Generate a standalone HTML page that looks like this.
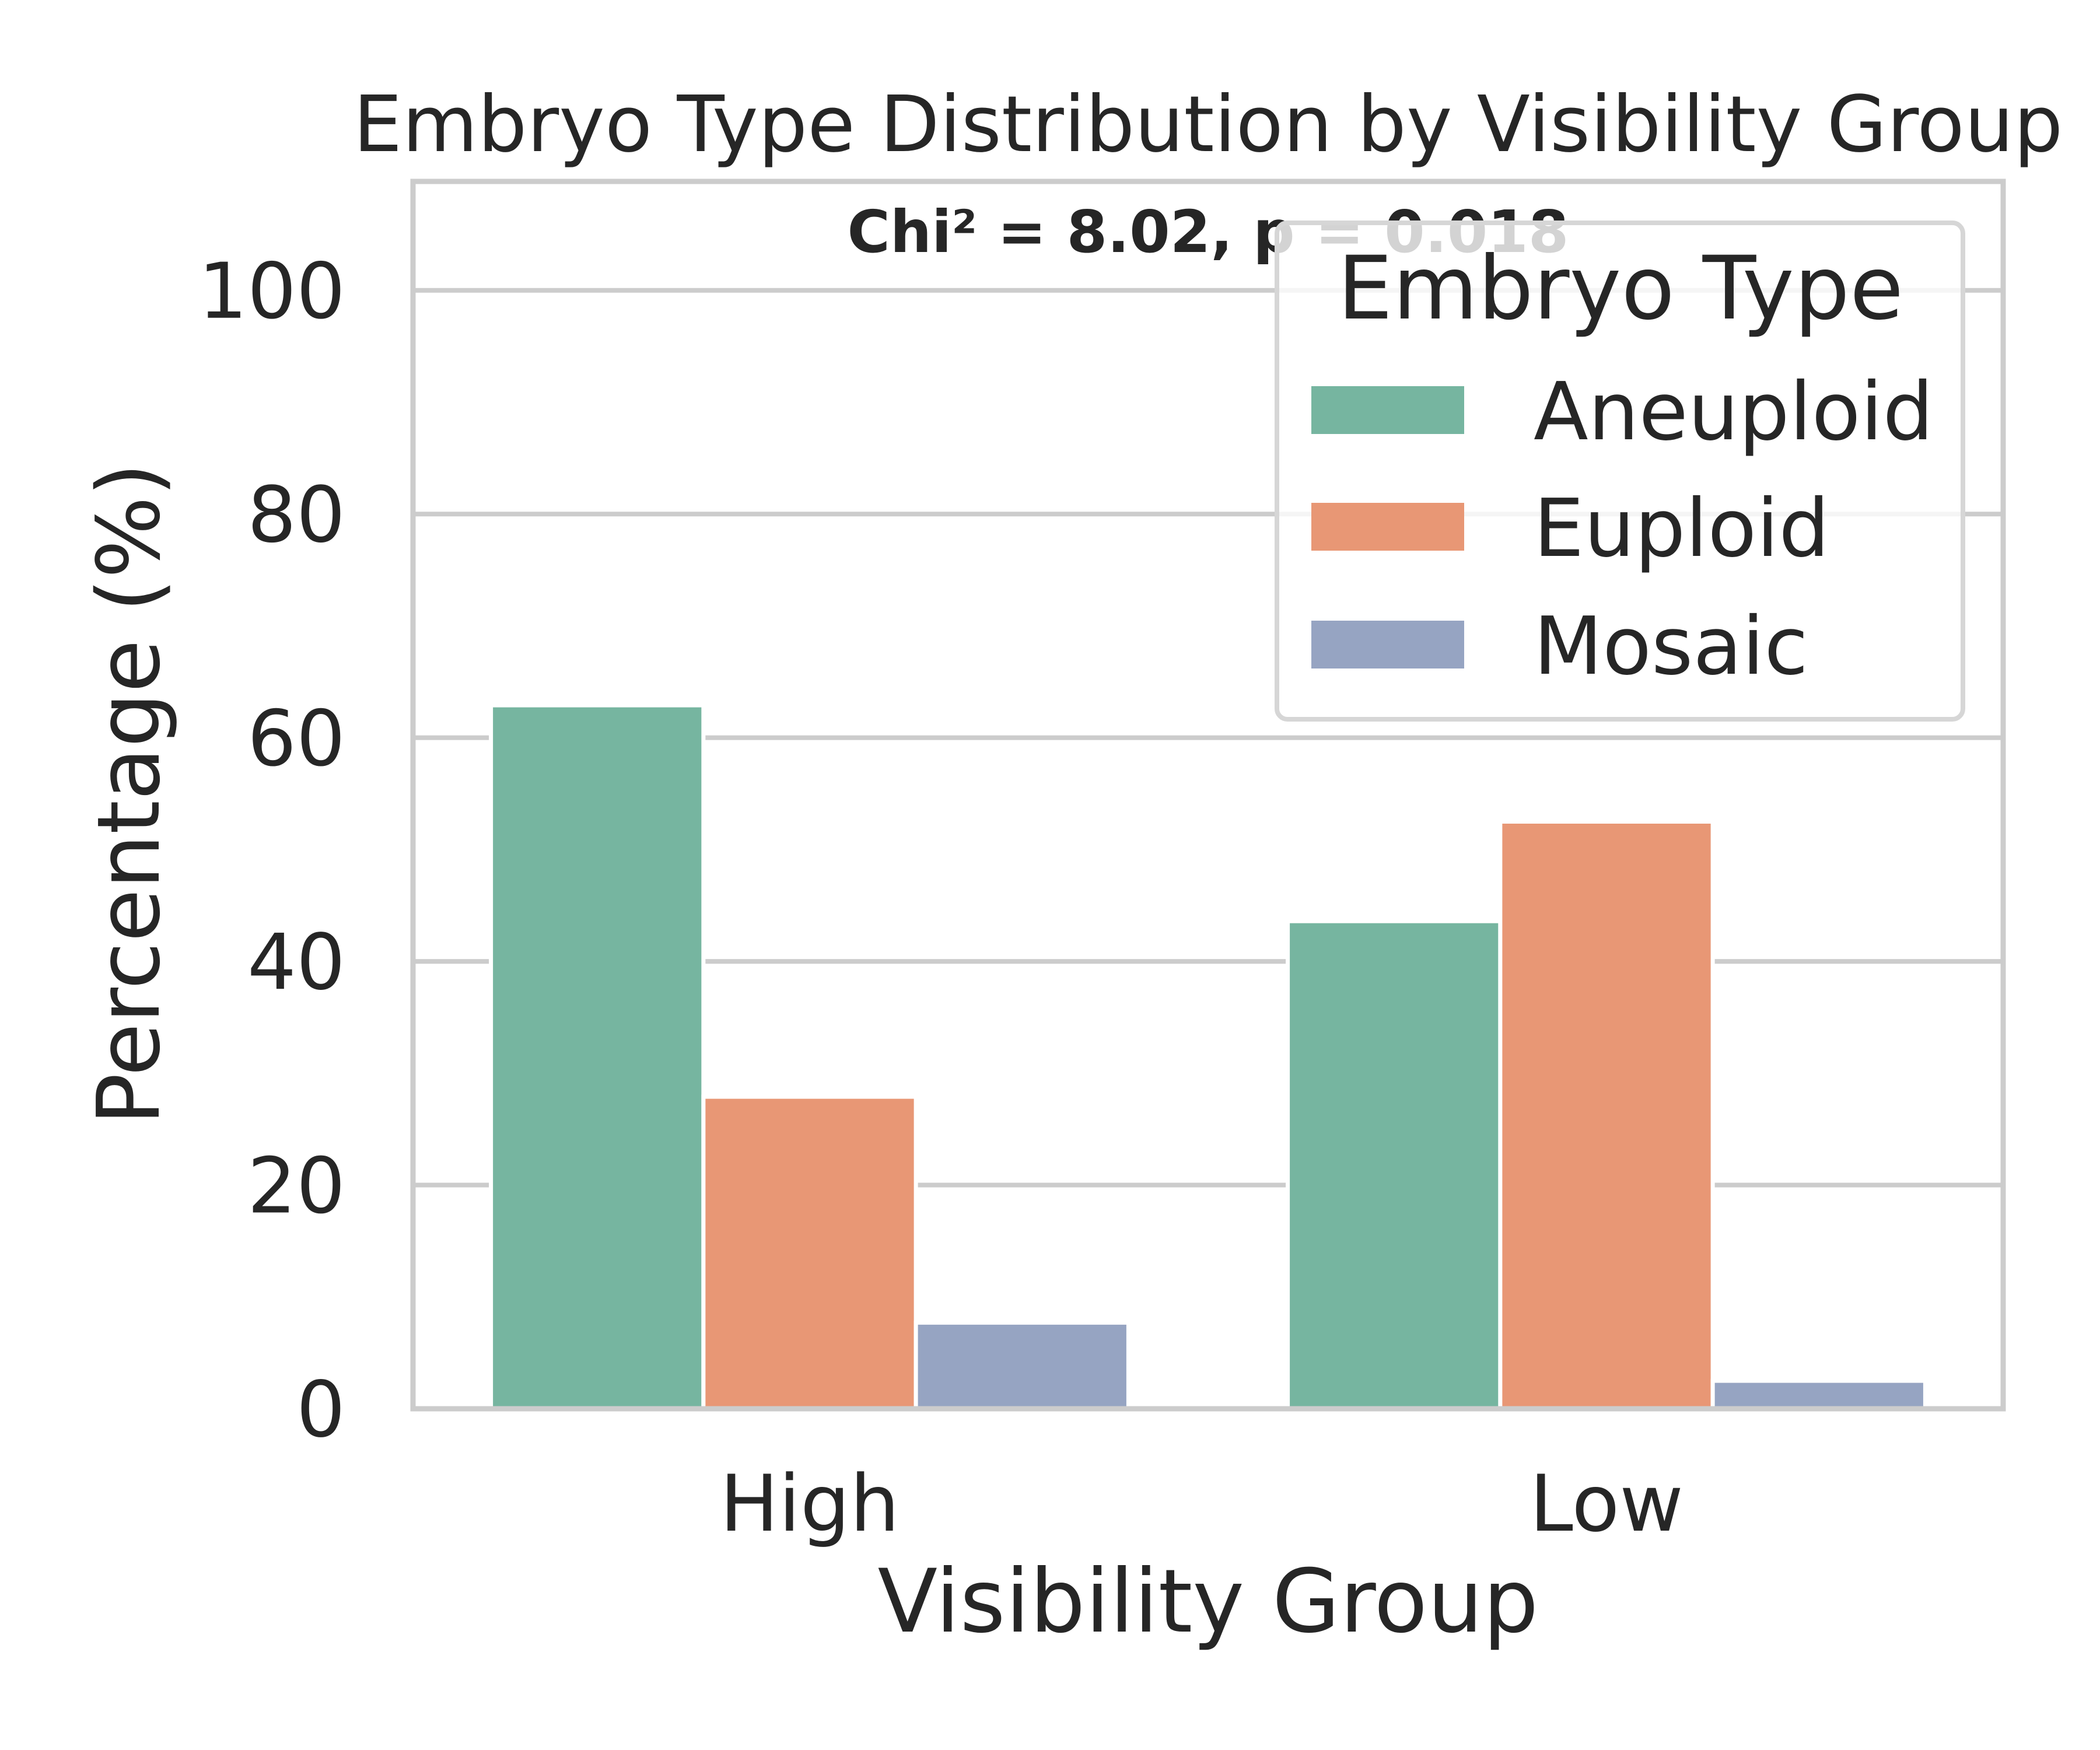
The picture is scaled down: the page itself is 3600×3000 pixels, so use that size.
<!DOCTYPE html>
<html><head><meta charset="utf-8"><style>
html,body{margin:0;padding:0;background:#fff;}
svg{display:block;font-family:"DejaVu Sans","Liberation Sans",sans-serif;}
</style></head><body>
<svg id="chart" width="3600" height="3000" viewBox="0 0 3600 3000" xmlns="http://www.w3.org/2000/svg">
<rect x="0" y="0" width="3600" height="3000" fill="#fff"/>
<text x="2071" y="259" font-size="133" fill="#262626" text-anchor="middle">Embryo Type Distribution by Visibility Group</text>
<g id="grid"></g>
<g id="bars"></g>
<rect x="708" y="311" width="2726" height="2104" fill="none" stroke="#cccccc" stroke-width="9"/>
<g id="yticks"></g>
<g id="xticks"></g>
<text x="2071" y="2797" font-size="150" fill="#262626" text-anchor="middle">Visibility Group</text>
<text transform="translate(272,1361) rotate(-90)" font-size="148" fill="#262626" text-anchor="middle">Percentage (%)</text>
<text x="2071" y="432" font-size="100" font-weight="bold" fill="#262626" text-anchor="middle">Chi² = 8.02, p = 0.018</text>
<g id="legend">
<rect x="2189" y="382" width="1176" height="851" rx="18" fill="#fff" fill-opacity="0.8" stroke="#d6d6d6" stroke-width="8"/>
<text x="2778" y="546" font-size="150" fill="#262626" text-anchor="middle">Embryo Type</text>
</g>
</svg>
<script>
const categories = ["High", "Low"];
const seriesNames = ["Aneuploid", "Euploid", "Mosaic"];
const aneuploid = [62.9, 43.6];
const euploid = [27.9, 52.5];
const mosaic = [7.7, 2.5];
const yTicks = [0, 20, 40, 60, 80, 100];

const NS = "http://www.w3.org/2000/svg";
const colors = ["#76b5a0", "#e89775", "#96a4c2"];
const series = [aneuploid, euploid, mosaic];
const L = 705, R = 3437, T = 308, B = 2415;
const yMax = 109.9;
function yScale(v){ return B - v / yMax * (B - T); }
const band = (R - L) / categories.length;
function xCenter(i){ return L + band * (i + 0.5); }
const groupW = band * 0.8, barW = groupW / series.length;

function mk(tag, attrs, parent){
  const e = document.createElementNS(NS, tag);
  for (const k in attrs) e.setAttribute(k, attrs[k]);
  parent.appendChild(e);
  return e;
}
const grid = document.getElementById("grid");
const yt = document.getElementById("yticks");
yTicks.forEach(v => {
  const y = yScale(v);
  const g = mk("line", {x1: L, x2: R, y1: y, y2: y, stroke: "#cccccc", "stroke-width": 8}, grid);
  
  
  const t = mk("text", {x: 592, y: y + 47, "font-size": 132, fill: "#262626", "text-anchor": "end"}, yt);
  t.textContent = v;
  
  
});
const bars = document.getElementById("bars");
categories.forEach((c, i) => {
  series.forEach((s, j) => {
    const x = xCenter(i) - groupW / 2 + j * barW;
    const y = yScale(s[i]);
    const r = mk("rect", {x: x, y: y, width: barW, height: B - y, fill: colors[j], stroke: "#fff", "stroke-width": 7}, bars);
    
    
  });
  const t = mk("text", {x: xCenter(i), y: 2624, "font-size": 134, fill: "#262626", "text-anchor": "middle"}, document.getElementById("xticks"));
  t.textContent = c;
  
  
});
const leg = document.getElementById("legend");
const legY = [703, 903, 1105];
seriesNames.forEach((n, j) => {
  const p = mk("rect", {x: 2248, y: legY[j] - 41, width: 262, height: 82, fill: colors[j]}, leg);
  
  
  const t = mk("text", {x: 2629, y: legY[j] + 50, "font-size": 137, fill: "#262626"}, leg);
  t.textContent = n;
  
  
});
</script>
</body></html>
